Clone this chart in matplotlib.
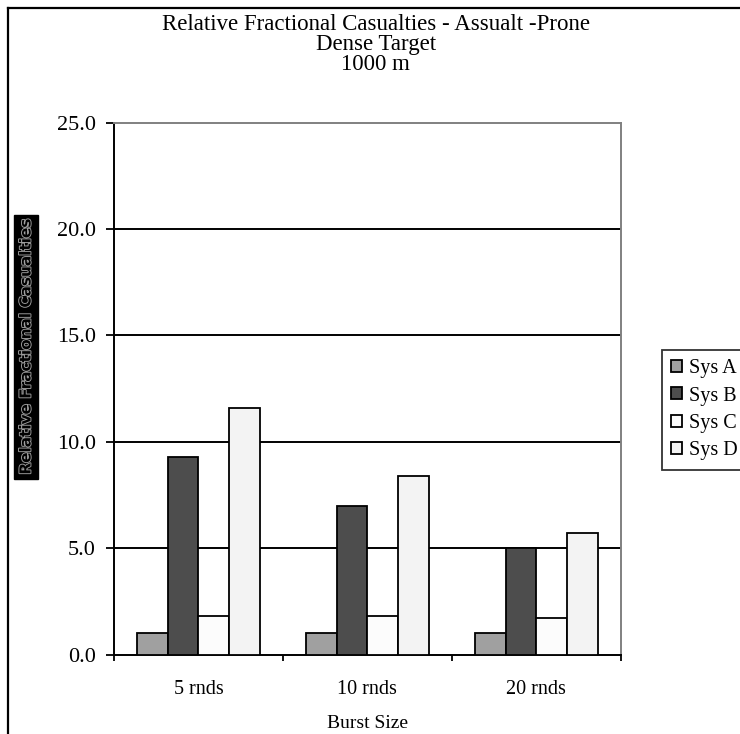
import matplotlib
matplotlib.use("Agg")
import matplotlib.pyplot as plt
import matplotlib.patheffects as pe
from matplotlib.lines import Line2D
import numpy as np

# data
categories = ["5 rnds", "10 rnds", "20 rnds"]
series_names = ["Sys A", "Sys B", "Sys C", "Sys D"]
sys_a = [1.0, 1.0, 1.0]
sys_b = [9.3, 7.0, 5.0]
sys_c = [1.8, 1.8, 1.7]
sys_d = [11.6, 8.4, 5.7]
y_ticks = [0.0, 5.0, 10.0, 15.0, 20.0, 25.0]

colors = ["#a0a0a0", "#4d4d4d", "#fcfcfc", "#f3f3f3"]

plt.rcParams["font.family"] = ["Liberation Serif", "DejaVu Serif"]

fig = plt.figure(figsize=(7.4, 7.34), dpi=100)
ax = fig.add_axes([0.154, 0.1083, 0.685, 0.7245])

x = np.arange(len(categories))
w = 0.181
values = [sys_a, sys_b, sys_c, sys_d]
handles = []
for i, (vals, name) in enumerate(zip(values, series_names)):
    b = ax.bar(x + (i - 1.5) * w, vals, w, color=colors[i], edgecolor="black",
               linewidth=1.3, label=name, zorder=3)
    handles.append(b)

ax.set_xlim(-0.5, 2.5)
ax.set_ylim(0, 25)
ax.set_yticks(y_ticks)
ax.set_yticklabels([f"{v:.1f}" for v in y_ticks], fontsize=16)
for v in y_ticks[1:-1]:
    ax.axhline(v, color="black", lw=1.4, zorder=1)

ax.set_xticks([-0.5, 0.5, 1.5, 2.5])
ax.set_xticklabels([])
ax.set_xticks(x, minor=True)
ax.set_xticklabels(categories, minor=True, fontsize=14.5)
ax.tick_params(axis="x", which="minor", length=0, pad=18)
ax.tick_params(axis="x", which="major", direction="out", length=4, width=1.3)
ax.tick_params(axis="y", direction="out", length=6, width=1.3, pad=7)

for s in ["left", "bottom"]:
    ax.spines[s].set_color("black")
    ax.spines[s].set_linewidth(1.4)
for s in ["top", "right"]:
    ax.spines[s].set_color("#808080")
    ax.spines[s].set_linewidth(1.4)

ax.set_xlabel("Burst Size", fontsize=14, labelpad=12)

fig.text(0.508, 0.981, "Relative Fractional Casualties - Assualt -Prone\nDense Target\n1000 m",
         ha="center", va="top", fontsize=16.5, linespacing=0.93)

# odd outlined y label on black box
yl = fig.text(26 / 740, 1 - 347 / 734, "Relative Fractional Casualties", rotation=90,
              ha="center", va="center", fontsize=11, color="black",
              family="DejaVu Sans", fontweight="bold",
              bbox=dict(facecolor="black", edgecolor="black", pad=3))
yl.set_path_effects([pe.Stroke(linewidth=1.3, foreground="#a0a0a0"), pe.Normal()])

leg = fig.legend(handles=handles, labels=series_names, loc="upper left",
                 bbox_to_anchor=(662 / 740, 1 - 350 / 734), fontsize=14.5,
                 frameon=True, fancybox=False, edgecolor="black",
                 handlelength=0.55, handleheight=0.55, handletextpad=0.35,
                 labelspacing=0.42, borderpad=0.45, borderaxespad=0)
leg.get_frame().set_linewidth(1.3)

# outer frame (only left and top edges are visible)
fig.add_artist(Line2D([8 / 740, 8 / 740], [0, 1 - 8 / 734], color="black", lw=1.6,
                      transform=fig.transFigure))
fig.add_artist(Line2D([8 / 740, 1], [1 - 8 / 734, 1 - 8 / 734], color="black", lw=1.6,
                      transform=fig.transFigure))

fig.savefig("out.png", dpi=100)
